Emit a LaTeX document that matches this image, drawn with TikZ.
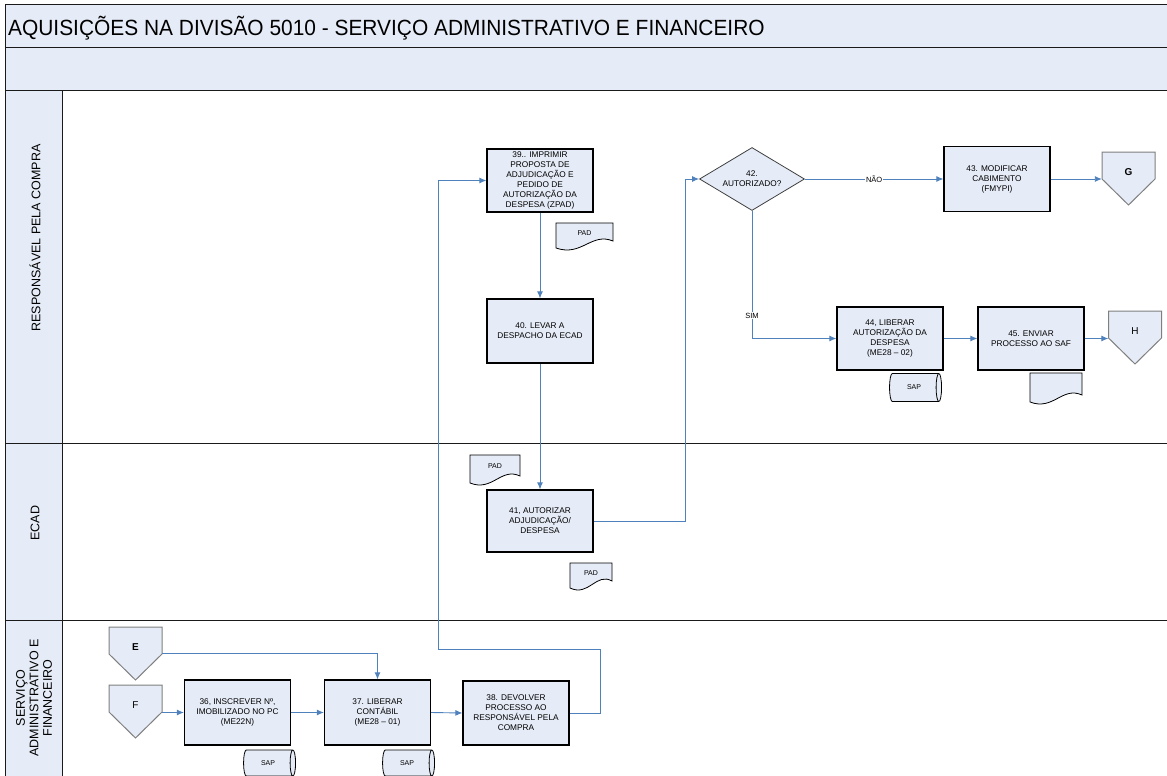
\documentclass[tikz,border=0pt]{standalone}
\usepackage{fontspec}
\setmainfont{Liberation Sans}
\newfontfamily\titlefont{Liberation Sans}[FakeStretch=0.95]
\usetikzlibrary{arrows.meta,shapes.geometric}
\definecolor{boxfill}{HTML}{E6ECF7}
\definecolor{flow}{HTML}{4F81BD}
\definecolor{rule}{HTML}{1A1A1A}
\definecolor{pagegray}{HTML}{7F7F7F}

% document symbol with a wavy lower edge: left, top, right, bottom
\newcommand\docsymbol[4]{%
  \filldraw[docline] (#1,#2) -- (#3,#2) -- (#3,{#4-7})
    .. controls ({#1+0.62*(#3-#1)},{#4-16}) and ({#1+0.45*(#3-#1)},{#4+9}) .. (#1,#4) -- cycle;}
% off-page connector: centre x, top y, name, label
\newcommand\offpage[4]{%
  \filldraw[pageline] ({#1-26.5},#2) -- ({#1+26.5},#2) -- ({#1+26.5},{#2+27})
    -- (#1,{#2+53}) -- ({#1-26.5},{#2+27}) -- cycle;
  \node[pagenode] (#3) at (#1,{#2+26.5}) {};
  \node[pagelabel] at (#1,{#2+20}) {#4};}

\begin{document}
\begin{tikzpicture}[x=1pt,y=-1pt,
  task/.style={rectangle, draw=black, line width=1.2pt, fill=boxfill,
    minimum width=106pt, minimum height=63pt, inner sep=1pt, align=center,
    font=\fontsize{8.3}{10}\selectfont},
  decision/.style={diamond, draw=black!75, line width=0.8pt, fill=boxfill,
    minimum width=105pt, minimum height=63pt, inner sep=0pt, aspect=1.67,
    align=center, font=\fontsize{8.3}{10}\selectfont},
  store/.style={cylinder, shape aspect=1.1, draw=black, line width=0.8pt,
    fill=boxfill, minimum height=52pt, minimum width=28pt, inner sep=0pt,
    font=\fontsize{7}{8}\selectfont},
  docline/.style={draw=black, line width=0.8pt, fill=boxfill},
  doclabel/.style={inner sep=0pt, font=\fontsize{7}{8}\selectfont},
  pageline/.style={draw=pagegray, line width=1pt, fill=boxfill},
  pagenode/.style={rectangle, draw=none, minimum width=53pt, minimum height=53pt, inner sep=0pt},
  pagelabel/.style={inner sep=0pt, font=\fontsize{10}{12}\selectfont},
  flowline/.style={draw=flow, line width=0.9pt, -{Latex[length=7pt,width=6pt]}},
  lbl/.style={fill=white, inner sep=1pt, font=\fontsize{7.5}{9}\selectfont},
  lanelabel/.style={rotate=90, align=center, inner sep=0pt, font=\fontsize{12.5}{13.5}\selectfont}
]
\useasboundingbox (0,0) rectangle (1167,776);

% title bands and swimlanes
\fill[boxfill] (5,5) rectangle (1167,90);
\fill[boxfill] (5,90) rectangle (62,776);
\draw[rule, line width=1pt] (5,776) -- (5,5) -- (1167,5);
\draw[rule, line width=1pt] (5,48) -- (1167,48);
\draw[rule, line width=1pt] (5,90) -- (1167,90);
\draw[rule, line width=1pt] (5,443) -- (1167,443);
\draw[rule, line width=1pt] (5,620) -- (1167,620);
\draw[rule, line width=1pt] (62,90) -- (62,776);

\node[anchor=west, inner sep=0pt, font=\titlefont\fontsize{22}{24}\selectfont] (title) at (8,28)
  {AQUISIÇÕES NA DIVISÃO 5010 - SERVIÇO ADMINISTRATIVO E FINANCEIRO};

\node[lanelabel] (laneA) at (35,238) {RESPONSÁVEL PELA COMPRA};
\node[lanelabel] (laneB) at (35,523) {ECAD};
\node[lanelabel] (laneC) at (34,698) {SERVIÇO\\ADMINISTRATIVO E\\FINANCEIRO};

% responsavel pela compra
\node[task] (b39) at (540,180.5) {39.. IMPRIMIR\\PROPOSTA DE\\ADJUDICAÇÃO E\\PEDIDO DE\\AUTORIZAÇÃO DA\\DESPESA (ZPAD)};
\docsymbol{556}{223}{613}{248}
\node[doclabel] (padA) at (584.5,233) {PAD};
\node[task, minimum height=64pt] (b40) at (540,331) {40. LEVAR A\\DESPACHO DA ECAD};
\node[decision] (d42) at (752,179) {42.\\AUTORIZADO?};
\node[task, minimum height=65pt] (b43) at (997,179) {43. MODIFICAR\\CABIMENTO\\(FMYPI)};
\offpage{1128.5}{152}{G}{\textbf{G}}
\node[task] (b44) at (890,338.5) {44, LIBERAR\\AUTORIZAÇÃO DA\\DESPESA\\(ME28 -- 02)};
\node[store] (sap44) at (914,387.5) {SAP};
\node[task] (b45) at (1031,338.5) {45. ENVIAR\\PROCESSO AO SAF};
\docsymbol{1030}{373}{1082}{402}
\offpage{1135}{311}{H}{H}

% ECAD
\docsymbol{470}{455}{520}{483}
\node[doclabel] (padB) at (495,466) {PAD};
\node[task, minimum height=62pt] (b41) at (540,521) {41, AUTORIZAR\\ADJUDICAÇÃO/\\DESPESA};
\docsymbol{570}{563}{612}{588}
\node[doclabel] (padC) at (591,573) {PAD};

% servico administrativo e financeiro
\offpage{135.5}{627}{E}{\textbf{E}}
\offpage{135.5}{685}{F}{F}
\node[task, minimum height=65pt] (b36) at (237.5,712.5) {36, INSCREVER Nº,\\IMOBILIZADO NO PC\\(ME22N)};
\node[store, minimum width=26pt] (sap36) at (268,763) {SAP};
\node[task, minimum height=65pt] (b37) at (377.5,712.5) {37. LIBERAR\\CONTÁBIL\\(ME28 -- 01)};
\node[store, minimum width=26pt] (sap37) at (407,763) {SAP};
\node[task, minimum height=64pt] (b38) at (516,713) {38. DEVOLVER\\PROCESSO AO\\RESPONSÁVEL PELA\\COMPRA};

% flow
\draw[flowline] (F.east |- b36.west) -- (b36.west);
\draw[flowline] (E.east) -| (b37.north);
\draw[flowline] (b36.east) -- (b37.west);
\draw[flowline] (b37.east) -- (b38.west);
\draw[flowline] (b38.east) -| (600,649) -| (438,180.5) -- (b39.west);
\draw[flowline] (b39.south) -- (b40.north);
\draw[flowline] (b40.south) -- (b41.north);
\draw[flowline] (b41.east) -| (685,179) -- (d42.west);
\draw[flowline] (d42.east) -- node[lbl] {NÃO} (b43.west);
\draw[flowline] (b43.east) -- (G.west |- b43.east);
\draw[flowline] (d42.south) |- node[lbl, pos=0.41] {SIM} (b44.west);
\draw[flowline] (b44.east) -- (b45.west);
\draw[flowline] (b45.east) -- (H.west |- b45.east);
\end{tikzpicture}
\end{document}
